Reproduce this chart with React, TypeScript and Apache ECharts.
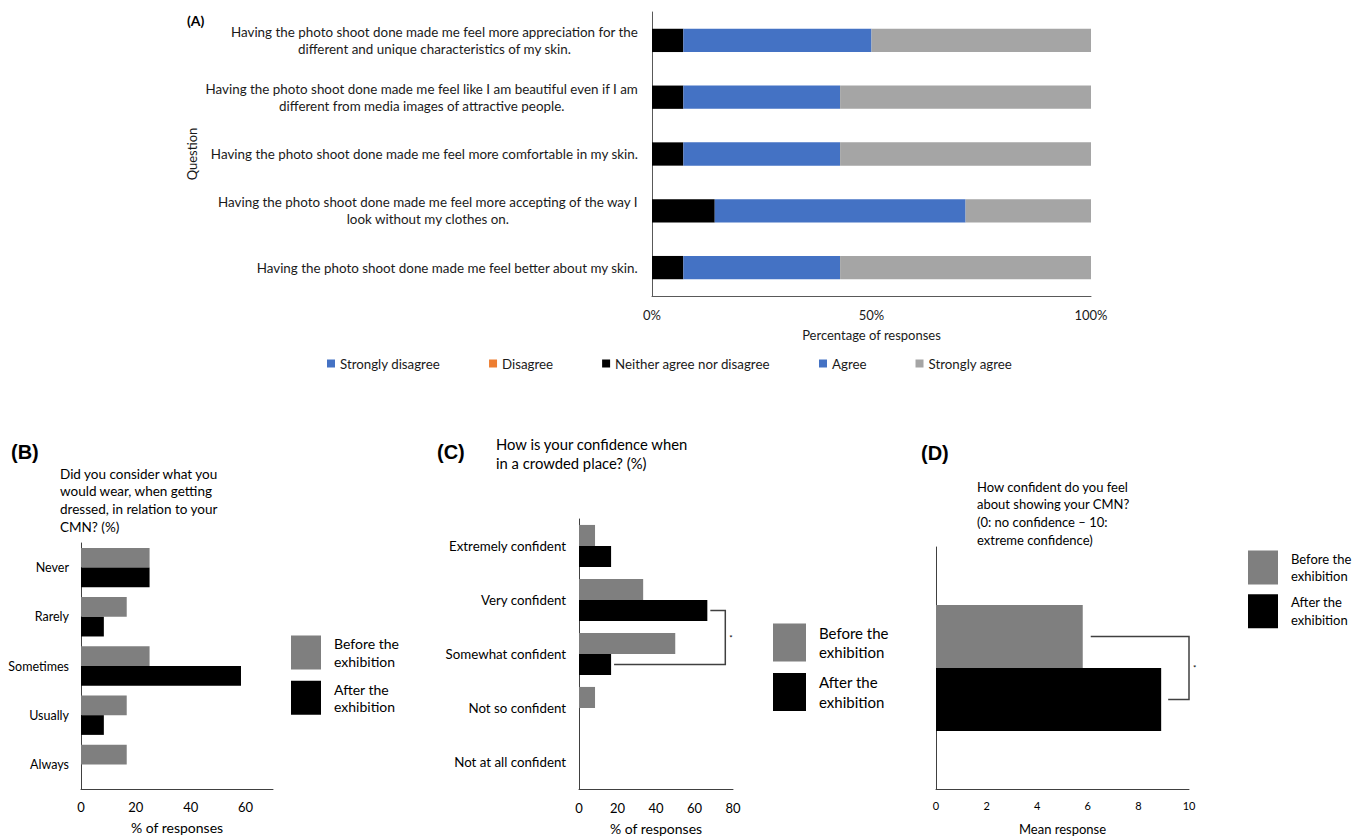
import React, { useEffect, useRef } from 'react';
import * as echarts from 'echarts';

// ---------- Panel A data ----------
const questions = [
  'Having the photo shoot done made me feel more appreciation for the\ndifferent and unique characteristics of my skin.',
  'Having the photo shoot done made me feel like I am beautiful even if I am\ndifferent from media images of attractive people.',
  'Having the photo shoot done made me feel more comfortable in my skin.',
  'Having the photo shoot done made me feel more accepting of the way I\nlook without my clothes on.',
  'Having the photo shoot done made me feel better about my skin.',
];
const likertLevels = ['Strongly disagree', 'Disagree', 'Neither agree nor disagree', 'Agree', 'Strongly agree'];
const likertColors = ['#4472C4', '#ED7D31', '#000000', '#4472C4', '#A5A5A5'];
const stronglyDisagreeA = [0, 0, 0, 0, 0];
const disagreeA = [0, 0, 0, 0, 0];
const neitherA = [7.14, 7.14, 7.14, 14.29, 7.14];
const agreeA = [42.86, 35.71, 35.71, 57.14, 35.71];
const stronglyAgreeA = [50.0, 57.15, 57.15, 28.57, 57.15];
const percentTicksA = [0, 50, 100];

// ---------- Panel B data ----------
const wearCategories = ['Never', 'Rarely', 'Sometimes', 'Usually', 'Always'];
const wearBefore = [25, 16.67, 25, 16.67, 16.67];
const wearAfter = [25, 8.33, 58.33, 8.33, 0];

// ---------- Panel C data ----------
const confCategories = ['Extremely confident', 'Very confident', 'Somewhat confident', 'Not so confident', 'Not at all confident'];
const confBefore = [8.33, 33.33, 50, 8.33, 0];
const confAfter = [16.67, 66.67, 16.67, 0, 0];

// ---------- Panel D data ----------
const meanCategories = ['Mean'];
const meanBefore = [5.8];
const meanAfter = [8.9];

const periods = ['Before the exhibition', 'After the exhibition'];
const periodColors = ['#7F7F7F', '#000000'];

const FONT = 'Lato';
const BOLD = 'Liberation Sans';

const gridA = { left: 652, top: 12, width: 439, height: 284 };
const gridB = { left: 81, top: 543, width: 192, height: 246 };
const gridC = { left: 579, top: 519, width: 154, height: 270 };
const gridD = { left: 936, top: 547, width: 253, height: 242 };
const gapB = 0.2, gapC = 0.22, gapD = 0.48;

const axisLineDark = { show: true, lineStyle: { color: '#404040', width: 1 } };

function legendFor(left: number, top: number, w: number, h: number, gap: number, size: number, lh: number) {
  return {
    data: periods,
    orient: 'vertical',
    left, top, padding: 0,
    itemWidth: w, itemHeight: h, itemGap: gap,
    icon: 'rect',
    selectedMode: false,
    formatter: (n: string) => n.replace(' exhibition', '\nexhibition'),
    textStyle: { fontFamily: FONT, fontSize: size, lineHeight: lh, color: '#000', padding: [0, 0, 0, 8] },
  };
}

export default function App() {
  const ref = useRef<HTMLDivElement>(null);
  useEffect(() => {
    const el = ref.current;
    if (!el) return;
    const chart = echarts.init(el, null, { renderer: 'svg' });

    const titleStyle = (size: number, lh: number, bold = false, family = FONT) => ({
      fontFamily: family, fontSize: size, lineHeight: lh, fontWeight: bold ? 'bold' : 'normal', color: '#000',
    });

    const option: any = {
      animation: false,
      backgroundColor: '#fff',
      textStyle: { fontFamily: FONT },
      title: [
        { text: '(A)', left: 187, top: 12, padding: 0, textStyle: titleStyle(14, 16, true, FONT) },
        { text: '(B)', left: 11, top: 441, padding: 0, textStyle: titleStyle(20, 22, true, BOLD) },
        { text: '(C)', left: 437, top: 441, padding: 0, textStyle: titleStyle(20, 22, true, BOLD) },
        { text: '(D)', left: 921, top: 442, padding: 0, textStyle: titleStyle(20, 22, true, BOLD) },
        { text: 'Did you consider what you\nwould wear, when getting\ndressed, in relation to your\nCMN? (%)', left: 60, top: 465, padding: 0, textStyle: titleStyle(13.5, 17.6) },
        { text: 'How is your confidence when\nin a crowded place? (%)', left: 496, top: 434, padding: 0, textStyle: titleStyle(14.8, 19.5) },
        { text: 'How confident do you feel\nabout showing your CMN?\n(0: no confidence \u2013 10:\nextreme confidence)', left: 977, top: 478, padding: 0, textStyle: titleStyle(13, 17.6) },
      ],
      legend: [
        {
          data: likertLevels,
          left: 327, top: 357, padding: 0,
          itemWidth: 8, itemHeight: 8, itemGap: 49,
          icon: 'rect', selectedMode: false,
          textStyle: { fontFamily: FONT, fontSize: 13.3, color: '#1a1a1a' },
        },
        legendFor(291, 635, 30, 34, 10, 14, 17.6),
        legendFor(773, 623, 33, 38, 10.5, 15, 19.5),
        legendFor(1248, 550, 30, 34, 9, 13, 17.4),
      ],
      grid: [gridA, gridB, gridC, gridD],
      xAxis: [
        {
          type: 'value', gridIndex: 0, min: percentTicksA[0], max: percentTicksA[2], interval: percentTicksA[1] - percentTicksA[0],
          axisLine: { show: true, lineStyle: { color: '#595959', width: 1 } }, axisTick: { show: false }, splitLine: { show: false },
          axisLabel: { formatter: '{value}%', margin: 12, fontFamily: FONT, fontSize: 13, color: '#1a1a1a' },
          name: 'Percentage of responses', nameLocation: 'middle', nameGap: 32,
          nameTextStyle: { fontFamily: FONT, fontSize: 13, color: '#1a1a1a' },
        },
        {
          type: 'value', gridIndex: 1, min: 0, max: 70, interval: 20,
          axisLine: axisLineDark, axisTick: { show: false }, splitLine: { show: false },
          axisLabel: { margin: 11, fontFamily: FONT, fontSize: 13, color: '#000', showMaxLabel: false },
          name: '% of responses', nameLocation: 'middle', nameGap: 31,
          nameTextStyle: { fontFamily: FONT, fontSize: 14, color: '#000' },
        },
        {
          type: 'value', gridIndex: 2, min: 0, max: 80, interval: 20,
          axisLine: axisLineDark, axisTick: { show: false }, splitLine: { show: false },
          axisLabel: { margin: 12, fontFamily: FONT, fontSize: 13, color: '#000' },
          name: '% of responses', nameLocation: 'middle', nameGap: 32,
          nameTextStyle: { fontFamily: FONT, fontSize: 14, color: '#000' },
        },
        {
          type: 'value', gridIndex: 3, min: 0, max: 10, interval: 2,
          axisLine: axisLineDark, axisTick: { show: false }, splitLine: { show: false },
          axisLabel: { margin: 11, fontFamily: FONT, fontSize: 11, color: '#000' },
          name: 'Mean response', nameLocation: 'middle', nameGap: 33,
          nameTextStyle: { fontFamily: FONT, fontSize: 13, color: '#000' },
        },
      ],
      yAxis: [
        {
          type: 'category', gridIndex: 0, data: questions, inverse: true,
          axisLine: { show: true, lineStyle: { color: '#595959', width: 1 } }, axisTick: { show: false },
          axisLabel: {
            margin: 14,
            formatter: (v: string) => v.split('\n').map((l) => `{c|${l}}`).join('\n'),
            rich: { c: { align: 'center', fontFamily: FONT, fontSize: 13.4, lineHeight: 17, color: '#1a1a1a' } },
          },
          name: 'Question', nameLocation: 'middle', nameRotate: 90, nameGap: 454,
          nameTextStyle: { fontFamily: FONT, fontSize: 13, color: '#1a1a1a' },
        },
        {
          type: 'category', gridIndex: 1, data: wearCategories, inverse: true,
          axisLine: axisLineDark, axisTick: { show: false },
          axisLabel: { margin: 12, fontFamily: FONT, fontSize: 12.5, color: '#000' },
        },
        {
          type: 'category', gridIndex: 2, data: confCategories, inverse: true,
          axisLine: axisLineDark, axisTick: { show: false },
          axisLabel: { margin: 13, fontFamily: FONT, fontSize: 13.3, color: '#000' },
        },
        {
          type: 'category', gridIndex: 3, data: meanCategories, inverse: true,
          axisLine: axisLineDark, axisTick: { show: false },
          axisLabel: { show: false },
        },
      ],
      series: [
        ...[stronglyDisagreeA, disagreeA, neitherA, agreeA, stronglyAgreeA].map((d, i) => ({
          type: 'bar', name: likertLevels[i], stack: 'A', xAxisIndex: 0, yAxisIndex: 0,
          data: d, barCategoryGap: '59%', itemStyle: { color: likertColors[i] },
        })),
        ...[wearBefore, wearAfter].map((d, i) => ({
          type: 'bar', name: periods[i], xAxisIndex: 1, yAxisIndex: 1, data: d,
          barGap: '0%', barCategoryGap: `${gapB * 100}%`, itemStyle: { color: periodColors[i] },
        })),
        ...[confBefore, confAfter].map((d, i) => ({
          type: 'bar', name: periods[i], xAxisIndex: 2, yAxisIndex: 2, data: d,
          barGap: '0%', barCategoryGap: `${gapC * 100}%`, itemStyle: { color: periodColors[i] },
        })),
        ...[meanBefore, meanAfter].map((d, i) => ({
          type: 'bar', name: periods[i], xAxisIndex: 3, yAxisIndex: 3, data: d,
          barGap: '0%', barCategoryGap: `${gapD * 100}%`, itemStyle: { color: periodColors[i] },
        })),
      ],
    };
    chart.setOption(option);

    // Significance brackets, positioned through the axes
    const px = (grid: number, v: number, cat: number) =>
      chart.convertToPixel({ gridIndex: grid }, [v, cat]) as number[];
    const lineStyle = { stroke: '#404040', lineWidth: 1.5, fill: 'none' };

    // Panel C: Very confident (after) vs Somewhat confident (after)
    const bandC = Math.abs(px(2, 0, 1)[1] - px(2, 0, 0)[1]);
    const barWC = (bandC * (1 - gapC)) / 2;
    const cTopY = px(2, 0, 1)[1] + barWC / 2;
    const cBotY = px(2, 0, 2)[1] + barWC / 2;
    const cX = px(2, 76, 1)[0];
    const cTopStart = px(2, confAfter[1], 1)[0] + 3;
    const cBotStart = px(2, confAfter[2], 2)[0] + 3;

    // Panel D: before vs after
    const barWD = (gridD.height * (1 - gapD)) / 2;
    const dCenter = px(3, 0, 0)[1];
    const dTopY = dCenter - barWD / 2;
    const dBotY = dCenter + barWD / 2;
    const dX = px(3, 10, 0)[0];
    const dTopStart = px(3, meanBefore[0], 0)[0] + 8;
    const dBotStart = px(3, meanAfter[0], 0)[0] + 7;

    chart.setOption({
      graphic: [
        { type: 'polyline', silent: true, shape: { points: [[cTopStart, cTopY], [cX, cTopY], [cX, cBotY], [cBotStart, cBotY]] }, style: lineStyle },
        { type: 'text', silent: true, x: cX + 4, y: (cTopY + cBotY) / 2, style: { text: '*', fontSize: 8, fill: '#000', verticalAlign: 'middle', fontFamily: FONT } },
        { type: 'polyline', silent: true, shape: { points: [[dTopStart, dTopY], [dX, dTopY], [dX, dBotY], [dBotStart, dBotY]] }, style: lineStyle },
        { type: 'text', silent: true, x: dX + 4, y: (dTopY + dBotY) / 2, style: { text: '*', fontSize: 8, fill: '#000', verticalAlign: 'middle', fontFamily: FONT } },
      ],
    });

    return () => chart.dispose();
  }, []);

  return (
    <div
      ref={ref}
      style={{ position: 'absolute', left: 0, top: 0, width: 1353, height: 836, background: '#fff' }}
    />
  );
}
